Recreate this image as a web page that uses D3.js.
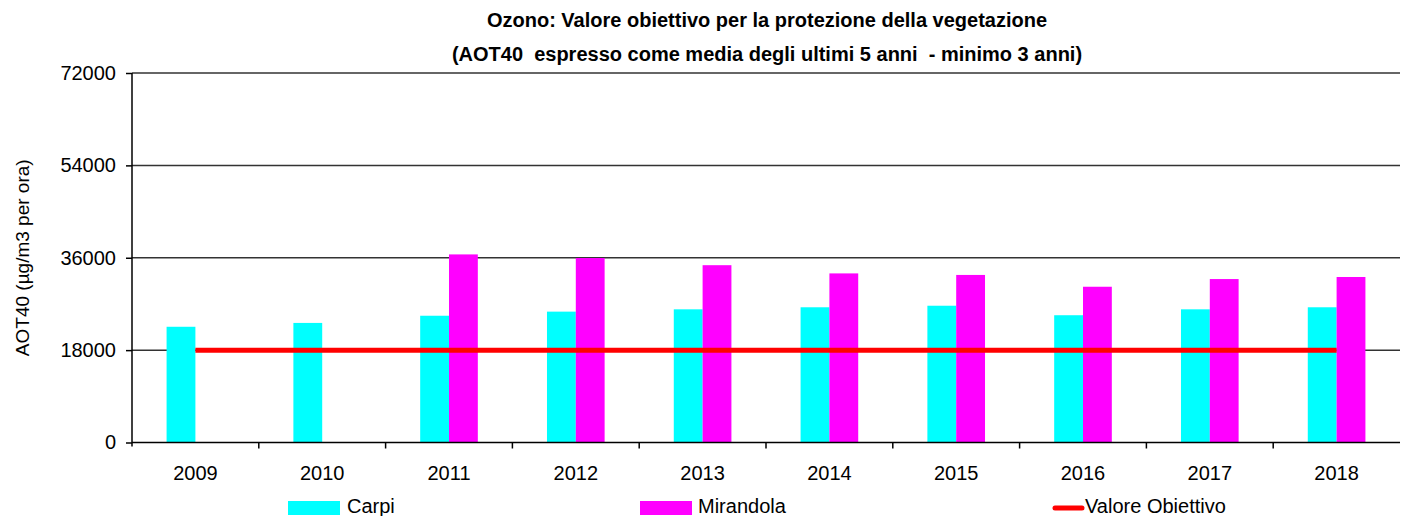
<!doctype html>
<html>
<head>
<meta charset="utf-8">
<style>
    body { margin: 0; background: #fff; }
    svg text { font-family: "Liberation Sans", Arial, sans-serif; fill: #000; }
</style>
<script src="https://d3js.org/d3.v7.min.js"></script>
</head>
<body>
<svg width="1401" height="516" id="chart"></svg>
<script>
    // data
    var years = ["2009", "2010", "2011", "2012", "2013", "2014", "2015", "2016", "2017", "2018"];
    var carpi = [22550, 23300, 24700, 25500, 25950, 26350, 26650, 24800, 25950, 26350];
    var mirandola = [null, null, 36650, 35950, 34550, 32950, 32650, 30350, 31850, 32250];
    var obiettivo = [18000, 18000, 18000, 18000, 18000, 18000, 18000, 18000, 18000, 18000];
    var yTicks = [0, 18000, 36000, 54000, 72000];
    var seriesNames = ["Carpi", "Mirandola"];

    var svg = d3.select("#chart");
    var plotLeft = 132, plotRight = 1400, plotTop = 73, plotBottom = 442.5;

    var x = d3.scaleBand().domain(years).range([plotLeft, plotRight]).padding(0);
    var xInner = d3.scaleBand().domain(seriesNames).range([0, x.bandwidth()])
        .paddingInner(0).paddingOuter(1.2);
    var y = d3.scaleLinear().domain([0, 72000]).range([plotBottom, plotTop]);

    var colors = { "Carpi": "#00ffff", "Mirandola": "#ff00ff" };

    // title
    svg.append("text")
       .attr("x", 767).attr("y", 27)
       .attr("text-anchor", "middle")
       .style("font-size", "20px").style("font-weight", "bold")
       .text("Ozono: Valore obiettivo per la protezione della vegetazione");
    svg.append("text")
       .attr("x", 767).attr("y", 61)
       .attr("text-anchor", "middle")
       .style("font-size", "20px").style("font-weight", "bold")
       .style("white-space", "pre")
       .text("(AOT40  espresso come media degli ultimi 5 anni  - minimo 3 anni)");

    // gridlines
    svg.append("g").selectAll("line")
       .data(yTicks.filter(function(d) { return d > 0; }))
       .enter().append("line")
       .attr("x1", plotLeft).attr("x2", plotRight)
       .attr("y1", function(d) { return y(d); })
       .attr("y2", function(d) { return y(d); })
       .attr("stroke", "#333").attr("stroke-width", 1.5);

    // bars
    var rows = years.map(function(yr, i) {
        return { year: yr, values: [
            { name: "Carpi", v: carpi[i] },
            { name: "Mirandola", v: mirandola[i] }
        ]};
    });

    var groups = svg.append("g").selectAll("g")
       .data(rows)
       .enter().append("g")
       .attr("transform", function(d) { return "translate(" + x(d.year) + ",0)"; });

    groups.selectAll("rect")
       .data(function(d) { return d.values.filter(function(v) { return v.v != null; }); })
       .enter().append("rect")
       .attr("x", function(d) { return xInner(d.name); })
       .attr("width", xInner.bandwidth())
       .attr("y", function(d) { return y(d.v); })
       .attr("height", function(d) { return y(0) - y(d.v); })
       .attr("fill", function(d) { return colors[d.name]; });

    // axes
    var yAxis = svg.append("g")
       .attr("transform", "translate(" + plotLeft + ",0)")
       .call(d3.axisLeft(y).tickValues(yTicks).tickSize(6).tickPadding(10).tickFormat(d3.format("d")));
    yAxis.select(".domain").attr("d", "M0," + plotTop + "V" + (plotBottom + 4)).attr("stroke", "#000").attr("stroke-width", 1.5);
    yAxis.selectAll(".tick line").attr("stroke", "#000").attr("stroke-width", 1.5);
    yAxis.selectAll("text").style("font-size", "20px");

    var xAxis = svg.append("g")
       .attr("transform", "translate(0," + plotBottom + ")")
       .call(d3.axisBottom(x).tickSize(0).tickPadding(23));
    xAxis.select(".domain").attr("d", "M" + plotLeft + ",0H" + plotRight).attr("stroke", "#000").attr("stroke-width", 1.5);
    xAxis.selectAll("text").style("font-size", "20px");
    xAxis.selectAll(".sep")
       .data(years.slice(1))
       .enter().append("line")
       .attr("x1", function(d) { return x(d); })
       .attr("x2", function(d) { return x(d); })
       .attr("y1", 0).attr("y2", 6)
       .attr("stroke", "#000").attr("stroke-width", 1.5);

    // target line
    var line = d3.line()
       .x(function(d, i) { return x(years[i]) + x.bandwidth() / 2; })
       .y(function(d) { return y(d); });
    svg.append("path")
       .datum(obiettivo)
       .attr("d", line)
       .attr("fill", "none")
       .attr("stroke", "#ff0000")
       .attr("stroke-width", 5);

    // y axis title
    svg.append("text")
       .attr("transform", "translate(29," + ((plotTop + plotBottom) / 2) + ") rotate(-90)")
       .attr("text-anchor", "middle")
       .style("font-size", "19px")
       .text("AOT40 (µg/m3 per ora)");

    // legend
    var legend = svg.append("g");
    legend.append("rect").attr("x", 288).attr("y", 501).attr("width", 52).attr("height", 14).attr("fill", colors.Carpi);
    legend.append("text").attr("x", 347).attr("y", 513).style("font-size", "20px").text("Carpi");
    legend.append("rect").attr("x", 640).attr("y", 501).attr("width", 52).attr("height", 14).attr("fill", colors.Mirandola);
    legend.append("text").attr("x", 698).attr("y", 513).style("font-size", "20px").text("Mirandola");
    legend.append("line").attr("x1", 1055).attr("x2", 1082).attr("y1", 508).attr("y2", 508)
       .attr("stroke", "#ff0000").attr("stroke-width", 5).attr("stroke-linecap", "round");
    legend.append("text").attr("x", 1085).attr("y", 513).style("font-size", "20px").text("Valore Obiettivo");
</script>
</body>
</html>
